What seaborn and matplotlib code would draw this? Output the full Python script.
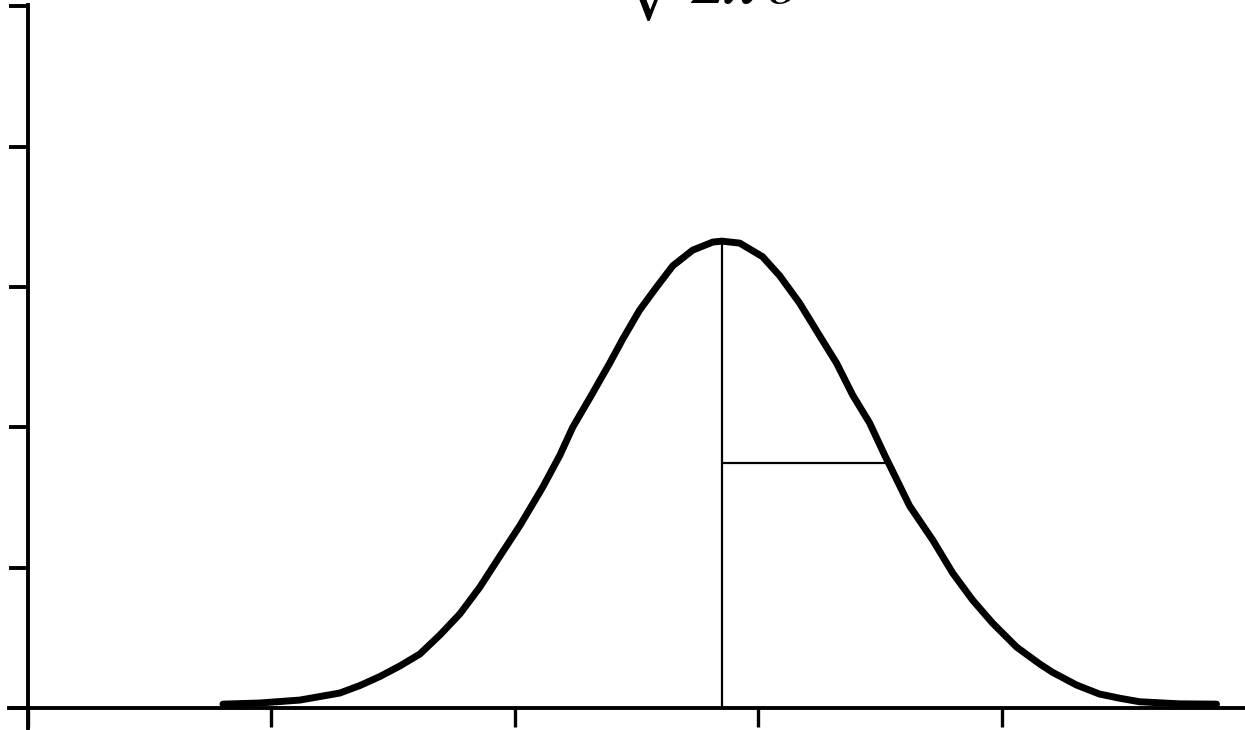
import numpy as np
import pandas as pd
import matplotlib
matplotlib.use("Agg")
import matplotlib.pyplot as plt
import seaborn as sns

# Curve points (data units: x tick spacing 1, y tick spacing 1)
curve_x = [0.801, 0.953, 1.117, 1.281, 1.363, 1.446, 1.528, 1.610, 1.692, 1.774,
           1.856, 1.938, 2.021, 2.115, 2.185, 2.238, 2.320, 2.390, 2.444, 2.513,
           2.583, 2.649, 2.731, 2.813, 2.850, 2.924, 3.018, 3.088, 3.170, 3.253,
           3.322, 3.388, 3.458, 3.520, 3.540, 3.622, 3.717, 3.799, 3.881, 3.963,
           4.062, 4.156, 4.209, 4.308, 4.402, 4.485, 4.567, 4.731, 4.883]
curve_y = [0.028, 0.036, 0.057, 0.107, 0.160, 0.225, 0.300, 0.385, 0.520, 0.670,
           0.860, 1.080, 1.300, 1.574, 1.800, 2.000, 2.244, 2.457, 2.630, 2.835,
           3.000, 3.150, 3.262, 3.319, 3.326, 3.312, 3.215, 3.080, 2.885, 2.650,
           2.457, 2.230, 2.030, 1.800, 1.730, 1.440, 1.197, 0.962, 0.769, 0.605,
           0.434, 0.315, 0.255, 0.164, 0.100, 0.070, 0.045, 0.030, 0.028]

mean_x = 2.850
peak_y = 3.326
sigma_line_y = 1.745
sigma_line_end_x = 3.520

x_ticks = [0, 1, 2, 3, 4]
y_ticks = [0, 1, 2, 3, 4, 5]
formula = r'$\sqrt{2\pi}\sigma$'

sns.set_style("white")
plt.rcParams['mathtext.fontset'] = 'stix'

fig = plt.figure(figsize=(12.45, 7.30), dpi=100)
ax = fig.add_axes([9/1245, 2/730, 1236/1245, 723/730])

df = pd.DataFrame({"x": curve_x, "y": curve_y})
sns.lineplot(data=df, x="x", y="y", ax=ax, color="black", linewidth=5.0,
             sort=False, estimator=None)

ax.plot([mean_x, mean_x], [0, peak_y], color="black", linewidth=1.6)
ax.plot([mean_x, sigma_line_end_x], [sigma_line_y, sigma_line_y], color="black", linewidth=1.6)

ax.set_xlim(-0.078, 5.0)
ax.set_ylim(-0.142, 5.008)

for s in ["top", "right"]:
    ax.spines[s].set_visible(False)
ax.spines["left"].set_position(("data", 0))
ax.spines["bottom"].set_position(("data", 0))
for s in ["left", "bottom"]:
    ax.spines[s].set_color("black")
    ax.spines[s].set_linewidth(2.8)

ax.set_xticks(x_ticks)
ax.set_yticks(y_ticks)
ax.set_xticklabels([])
ax.set_yticklabels([])
ax.tick_params(axis="x", direction="out", length=14, width=2.4, color="black", bottom=True)
ax.tick_params(axis="y", direction="out", length=13.5, width=2.8, color="black", left=True)
ax.set_xlabel("")
ax.set_ylabel("")

fig.text(615/1245, 1 - 3/730, formula, fontsize=50, color="black",
         ha="left", va="baseline")

fig.savefig("out.png", dpi=100, facecolor="white")
